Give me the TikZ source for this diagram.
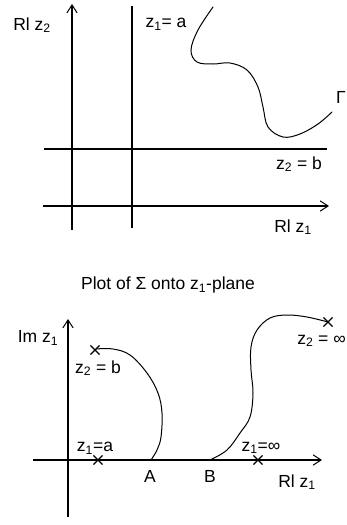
\documentclass[tikz,border=0pt]{standalone}
\usepackage{fontspec}
\setmainfont{Liberation Sans}
\usetikzlibrary{arrows.meta,shapes.misc}
\newcommand{\planearrowstyle}{-{Straight Barb[length=2.8mm,width=3.6mm,line width=1pt]}}
\newcommand{\sub}[1]{\textsubscript{#1}}

\begin{document}
\begin{tikzpicture}[
    x=1pt, y=-1pt,
    font=\fontsize{17.5}{20}\selectfont,
    ax/.style={\planearrowstyle, line width=1.1pt},
    ln/.style={line width=1.1pt},
    crv/.style={line width=1pt, line cap=round},
    xmark/.style={cross out, draw, line width=1.1pt, minimum size=8pt, inner sep=0pt}
]
  \useasboundingbox (0,0) rectangle (347,525);

  % upper picture: z1, z2 real parts
  \coordinate (rz2b) at (72,230);  \coordinate (rz2t) at (72,4);
  \coordinate (zab)  at (132,228); \coordinate (zat)  at (132,6);
  \coordinate (zbl)  at (44,149);  \coordinate (zbr)  at (327,149);
  \coordinate (rz1l) at (43,206);  \coordinate (rz1r) at (329,206);
  \draw[ax] (rz2b) -- (rz2t);
  \draw[ln] (zab) -- (zat);
  \draw[ln] (zbl) -- (zbr);
  \draw[ax] (rz1l) -- (rz1r);

  \node (lrztwo) at (32,25) {Rl z\sub{2}};
  \node (lzonea) at (166,24) {z\sub{1}= a};
  \node (lztwob) at (299,164) {z\sub{2} = b};
  \node (lrzone) at (293,227) {Rl z\sub{1}};
  \node[anchor=east, inner sep=0pt] (lgamma) at (346,97) {Γ};

  \draw[crv] plot[smooth, tension=0.6] coordinates {(213,7) (198,30) (191,50) (197,62)
    (213,64) (230,63) (247,70) (258,87) (263,107) (268,127) (283,137) (300,134)
    (318,124) (332,112)};

  % lower picture: z1-plane
  \node (title) at (168,285) {Plot of Σ onto z\sub{1}-plane};

  \coordinate (imb) at (68,517);  \coordinate (imt) at (68,319);
  \coordinate (rel) at (33,460);  \coordinate (rer) at (322,460);
  \draw[ax] (imb) -- (imt);
  \draw[ax] (rel) -- (rer);

  \node[xmark] (xa)   at (98,460) {};
  \node[xmark] (xinf) at (258,460) {};
  \node[xmark] (xb)   at (95,350) {};
  \node[xmark] (xalp) at (328,322) {};
  \coordinate (pA) at (151,460);
  \coordinate (pB) at (210,460);

  \draw[line width=1.4pt] (xa.center) -- (xinf.center);
  \draw[line width=2.8pt] (pA) -- (pB);

  \node (limz)   at (38,338) {Im z\sub{1}};
  \node (lza)    at (95,448) {z\sub{1}=a};
  \node (lzinf)  at (261,448) {z\sub{1}=∞};
  \node (lA)     at (150,476) {A};
  \node (lB)     at (210,476) {B};
  \node (lrl)    at (297,482) {Rl z\sub{1}};
  \node (lzb)    at (98,368) {z\sub{2} = b};
  \node[anchor=east, inner sep=0pt] (lzalp) at (346,341) {z\sub{2} = ∞};

  \draw[crv] plot[smooth, tension=0.6] coordinates {(96,349) (113,349) (130,355)
    (147,373) (158,393) (162,413) (161,437) (157,450) (151,460)};
  \draw[crv] plot[smooth, tension=0.6] coordinates {(210,460) (227,450) (240,433)
    (250,417) (253,393) (251,370) (251,347) (257,330) (270,318) (287,315)
    (307,317) (328,322)};
\end{tikzpicture}
\end{document}
